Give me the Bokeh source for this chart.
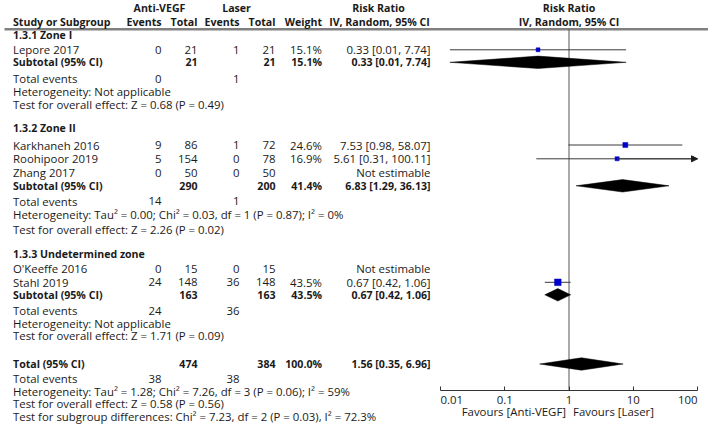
from bokeh.plotting import figure
from bokeh.models import (Range1d, ColumnDataSource, FixedTicker, CustomJSTickFormatter,
                          LogAxis, LogScale, Arrow, NormalHead)
from bokeh.core.properties import value
from bokeh.embed import file_html
from bokeh.resources import INLINE

# ---------------- data ----------------
group_names = ["1.3.1 Zone I", "1.3.2 Zone II", "1.3.3 Undetermined zone"]

study_names = ["Lepore 2017", "Karkhaneh 2016", "Roohipoor 2019", "Zhang 2017",
               "O'Keeffe 2016", "Stahl 2019"]
study_group = [0, 1, 1, 1, 2, 2]
ev_anti = [0, 9, 5, 0, 0, 24]
n_anti = [21, 86, 154, 50, 15, 148]
ev_laser = [1, 1, 0, 0, 0, 36]
n_laser = [21, 72, 78, 50, 15, 148]
weight = [15.1, 24.6, 16.9, None, None, 43.5]
rr = [0.33, 7.53, 5.61, None, None, 0.67]
rr_lo = [0.014, 0.98, 0.31, None, None, 0.42]
rr_hi = [7.74, 58.07, 100.11, None, None, 1.06]

sub_n_anti = [21, 290, 163]
sub_n_laser = [21, 200, 163]
sub_ev_anti = [0, 14, 24]
sub_ev_laser = [1, 1, 36]
sub_weight = [15.1, 41.4, 43.5]
sub_rr = [0.33, 6.83, 0.67]
sub_lo = [0.014, 1.29, 0.42]
sub_hi = [7.74, 36.13, 1.06]
sub_het = ["Heterogeneity: Not applicable",
           "Heterogeneity: Tau\u00b2 = 0.00; Chi\u00b2 = 0.03, df = 1 (P = 0.87); I\u00b2 = 0%",
           "Heterogeneity: Not applicable"]
sub_test = ["Test for overall effect: Z = 0.68 (P = 0.49)",
            "Test for overall effect: Z = 2.26 (P = 0.02)",
            "Test for overall effect: Z = 1.71 (P = 0.09)"]

tot_n_anti = 474
tot_n_laser = 384
tot_ev_anti = 38
tot_ev_laser = 38
tot_weight = 100.0
tot_rr = 1.56
tot_lo = 0.35
tot_hi = 6.96
tot_het = "Heterogeneity: Tau\u00b2 = 1.28; Chi\u00b2 = 7.26, df = 3 (P = 0.06); I\u00b2 = 59%"
tot_test = "Test for overall effect: Z = 0.58 (P = 0.56)"
tot_sub = "Test for subgroup differences: Chi\u00b2 = 7.23, df = 2 (P = 0.03), I\u00b2 = 72.3%"

axis_ticks = [0.01, 0.1, 1, 10, 100]
axis_tick_labels = ["0.01", "0.1", "1", "10", "100"]
favours_left = "Favours [Anti-VEGF]"
favours_right = "Favours [Laser]"

# ---------------- layout (reference pixel rows) ----------------
Y_HDR1, Y_HDR2, Y_RULE = 7.3, 21.0, 28.8
group_title_y = [34.8, 127.8, 253.3]
study_y = [49.3, 144.5, 158.3, 172.3, 268.0, 281.8]
sub_y = [61.8, 185.3, 294.3]
te_y = [78.0, 200.6, 310.0]
het_y = [91.0, 214.0, 322.7]
test_y = [103.6, 228.6, 335.3]
TOT_Y, TOT_TE_Y, TOT_HET_Y, TOT_TEST_Y, TOT_SUB_Y = 363.5, 378.3, 390.7, 403.3, 415.7
AXIS_Y, TICKLAB_Y, FAV_Y = 390.0, 399.0, 411.3

COL = dict(label=12.5, ev1=161, n1=197, ev2=239, n2=275, w=321.5, ci=430)

FONT = "Open Sans"
FS = "11.4px"
FS_B = "10.6px"
TXT = "#1a1a1a"

def fmt_ci(r, lo, hi):
    return f"{r:.2f} [{lo:.2f}, {hi:.2f}]"

items = []  # (x, y, text, align, bold)
def add(x, y, t, align="left", bold=False):
    items.append((x, y, t, align, bold))

# headers
add(159, Y_HDR1, "Anti-VEGF", "center", True)
add(236, Y_HDR1, "Laser", "center", True)
add(378, Y_HDR1, "Risk Ratio", "center", True)
add(COL["label"], Y_HDR2, "Study or Subgroup", "left", True)
add(COL["ev1"], Y_HDR2, "Events", "right", True)
add(COL["n1"], Y_HDR2, "Total", "right", True)
add(COL["ev2"], Y_HDR2, "Events", "right", True)
add(COL["n2"], Y_HDR2, "Total", "right", True)
add(COL["w"], Y_HDR2, "Weight", "right", True)
add(379, Y_HDR2, "IV, Random, 95% CI", "center", True)

for g in range(3):
    add(COL["label"], group_title_y[g], group_names[g], "left", True)
    for i in range(len(study_names)):
        if study_group[i] != g:
            continue
        y = study_y[i]
        add(COL["label"], y, study_names[i])
        add(COL["ev1"], y, str(ev_anti[i]), "right")
        add(COL["n1"], y, str(n_anti[i]), "right")
        add(COL["ev2"], y, str(ev_laser[i]), "right")
        add(COL["n2"], y, str(n_laser[i]), "right")
        if weight[i] is not None:
            add(COL["w"], y, f"{weight[i]:.1f}%", "right")
            add(COL["ci"], y, fmt_ci(rr[i], rr_lo[i], rr_hi[i]), "right")
        else:
            add(COL["ci"], y, "Not estimable", "right")
    y = sub_y[g]
    add(COL["label"], y, "Subtotal (95% CI)", "left", True)
    add(COL["n1"], y, str(sub_n_anti[g]), "right", True)
    add(COL["n2"], y, str(sub_n_laser[g]), "right", True)
    add(COL["w"], y, f"{sub_weight[g]:.1f}%", "right", True)
    add(COL["ci"], y, fmt_ci(sub_rr[g], sub_lo[g], sub_hi[g]), "right", True)
    add(COL["label"], te_y[g], "Total events")
    add(COL["ev1"], te_y[g], str(sub_ev_anti[g]), "right")
    add(COL["ev2"], te_y[g], str(sub_ev_laser[g]), "right")
    add(COL["label"], het_y[g], sub_het[g])
    add(COL["label"], test_y[g], sub_test[g])

add(COL["label"], TOT_Y, "Total (95% CI)", "left", True)
add(COL["n1"], TOT_Y, str(tot_n_anti), "right", True)
add(COL["n2"], TOT_Y, str(tot_n_laser), "right", True)
add(COL["w"], TOT_Y, f"{tot_weight:.1f}%", "right", True)
add(COL["ci"], TOT_Y, fmt_ci(tot_rr, tot_lo, tot_hi), "right", True)
add(COL["label"], TOT_TE_Y, "Total events")
add(COL["ev1"], TOT_TE_Y, str(tot_ev_anti), "right")
add(COL["ev2"], TOT_TE_Y, str(tot_ev_laser), "right")
add(COL["label"], TOT_HET_Y, tot_het)
add(COL["label"], TOT_TEST_Y, tot_test)
add(COL["label"], TOT_SUB_Y, tot_sub)

# ---------------- figure ----------------
W, H = 708, 427
X0, X1 = 0, 708          # page x covered by frame
Y_TOP, Y_BOT = 0.0, 427.0
PX_0_01, PX_100 = 440.0, 697.0
dec = (PX_100 - PX_0_01) / 4.0
log_start = -2 - (PX_0_01 - X0) / dec
log_end = 2 + (X1 - PX_100) / dec

p = figure(width=W, height=H, output_backend="svg", toolbar_location=None,
           x_range=Range1d(X0, X1), y_range=Range1d(Y_BOT, Y_TOP),
           x_axis_type=None, y_axis_type=None, min_border=0)
p.outline_line_color = None
p.background_fill_color = "white"
p.border_fill_color = "white"
p.extra_x_ranges = {"rr": Range1d(10 ** log_start, 10 ** log_end)}
p.extra_x_scales = {"rr": LogScale()}

# header rule
p.segment(x0=[4], y0=[Y_RULE], x1=[X1], y1=[Y_RULE], line_color="#808080", line_width=2.5)

for bold in (False, True):
    sel = [it for it in items if it[4] == bold]
    src = ColumnDataSource(dict(x=[s[0] for s in sel], y=[s[1] for s in sel],
                                t=[s[2] for s in sel], a=[s[3] for s in sel]))
    p.text(x="x", y="y", text="t", text_align="a", source=src, text_baseline="middle",
           text_font=value(FONT), text_font_size=value(FS_B if bold else FS), text_color=TXT,
           text_font_style="bold" if bold else "normal")

# right header
p.text(x=[1, 1], y=[Y_HDR1, Y_HDR2], text=["Risk Ratio", "IV, Random, 95% CI"],
       x_range_name="rr", text_align="center", text_baseline="middle",
       text_font=value(FONT), text_font_size=value(FS_B), text_color=TXT,
       text_font_style="bold")

# line of no effect
p.segment(x0=[1], y0=[Y_RULE], x1=[1], y1=[AXIS_Y], x_range_name="rr",
          line_color="#555555", line_width=1)

# study CIs and squares
est = [i for i in range(len(study_names)) if rr[i] is not None]
XMAX = axis_ticks[-1]
ci_src = ColumnDataSource(dict(
    lo=[max(rr_lo[i], axis_ticks[0]) for i in est],
    hi=[min(rr_hi[i], XMAX) for i in est],
    y=[study_y[i] for i in est],
    rr=[rr[i] for i in est],
    size=[(weight[i]) ** 0.5 * 1.0 for i in est]))
p.segment(x0="lo", y0="y", x1="hi", y1="y", source=ci_src, x_range_name="rr",
          line_color="#3a3a3a", line_width=1)
p.scatter(x="rr", y="y", size="size", marker="square", source=ci_src, x_range_name="rr",
          fill_color="#0000cc", line_color="#0000cc", line_width=0.5)
for i in est:
    if rr_hi[i] > XMAX:
        p.add_layout(Arrow(x_start=rr[i], y_start=study_y[i], x_end=XMAX, y_end=study_y[i],
                           x_range_name="rr", line_color="#3a3a3a", line_width=1,
                           end=NormalHead(size=6, fill_color="#1a1a1a", line_color="#1a1a1a")))

# diamonds
DH = 6.2
dx, dy = [], []
for lo, r, hi, y in zip(sub_lo + [tot_lo], sub_rr + [tot_rr], sub_hi + [tot_hi], sub_y + [TOT_Y]):
    dx.append([lo, r, hi, r])
    dy.append([y, y - DH, y, y + DH])
p.patches(xs=dx, ys=dy, x_range_name="rr", fill_color="black", line_color="black", line_width=0.5)

# axis
axis = LogAxis(x_range_name="rr", fixed_location=AXIS_Y, bounds=(axis_ticks[0], axis_ticks[-1]),
               ticker=FixedTicker(ticks=axis_ticks, minor_ticks=[]),
               formatter=CustomJSTickFormatter(code="return ''"),
               major_tick_in=4, major_tick_out=0, minor_tick_in=0, minor_tick_out=0,
               axis_line_color="#333333", major_tick_line_color="#333333",
               major_label_text_font_size="1px")
p.add_layout(axis, "below")

aligns = ["left"] + ["center"] * (len(axis_ticks) - 2) + ["right"]
p.text(x=axis_ticks, y=[TICKLAB_Y] * len(axis_ticks), text=axis_tick_labels,
       text_align=aligns, x_range_name="rr", text_baseline="middle",
       text_font=value(FONT), text_font_size=value(FS), text_color=TXT)
p.text(x=[1], y=[FAV_Y], text=[favours_left], x_range_name="rr", x_offset=-3,
       text_align="right", text_baseline="middle",
       text_font=value(FONT), text_font_size=value(FS), text_color=TXT)
p.text(x=[1], y=[FAV_Y], text=[favours_right], x_range_name="rr", x_offset=4,
       text_align="left", text_baseline="middle",
       text_font=value(FONT), text_font_size=value(FS), text_color=TXT)

open("out.html", "w").write(file_html(p, INLINE))
